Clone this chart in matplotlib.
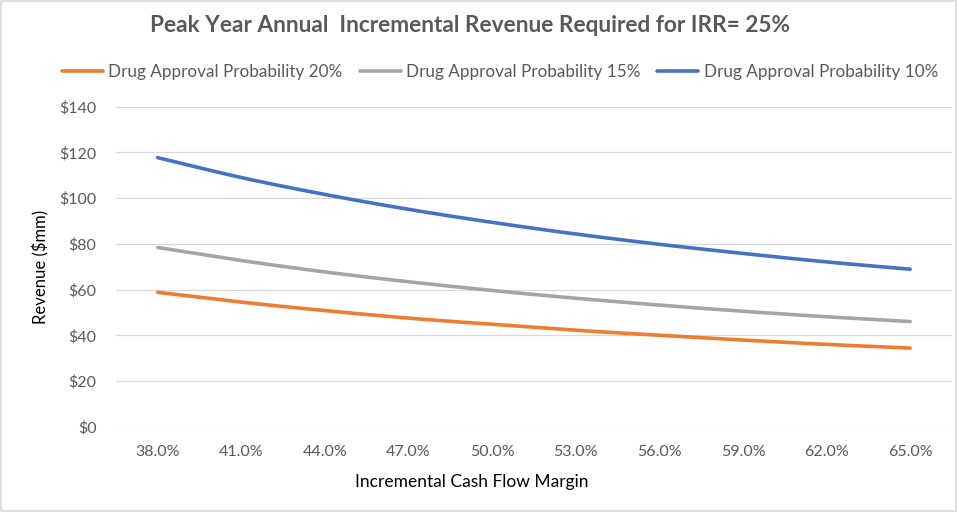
import numpy as np
import matplotlib.pyplot as plt
from matplotlib.patches import Rectangle

plt.rcParams['font.family'] = ['Lato', 'DejaVu Sans']

# categories (incremental cash flow margin)
margins = ["38.0%", "41.0%", "44.0%", "47.0%", "50.0%",
           "53.0%", "56.0%", "59.0%", "62.0%", "65.0%"]

# revenue required ($mm)
prob_20 = [58.8, 54.5, 50.8, 47.5, 44.8, 42.2, 40.0, 37.9, 36.0, 34.4]
prob_15 = [78.4, 72.7, 67.7, 63.4, 59.6, 56.2, 53.2, 50.5, 48.1, 46.0]
prob_10 = [117.7, 109.0, 101.6, 95.1, 89.4, 84.3, 79.8, 75.8, 72.1, 68.9]

series_names = ["Drug Approval Probability 20%",
                "Drug Approval Probability 15%",
                "Drug Approval Probability 10%"]
colors = ["#ED7D31", "#A5A5A5", "#4472C4"]
y_ticks = [0, 20, 40, 60, 80, 100, 120, 140]


def smooth(x, y, n=20):
    # catmull-rom curve through the points, like excel's smoothed line
    x = np.asarray(x, float)
    y = np.asarray(y, float)
    px = np.concatenate([[2 * x[0] - x[1]], x, [2 * x[-1] - x[-2]]])
    py = np.concatenate([[2 * y[0] - y[1]], y, [2 * y[-1] - y[-2]]])
    t = np.linspace(0, 1, n)
    xs, ys = [], []
    for i in range(1, len(px) - 2):
        for p, out in ((px, xs), (py, ys)):
            p0, p1, p2, p3 = p[i - 1], p[i], p[i + 1], p[i + 2]
            out.extend(0.5 * (2 * p1 + (-p0 + p2) * t
                              + (2 * p0 - 5 * p1 + 4 * p2 - p3) * t ** 2
                              + (-p0 + 3 * p1 - 3 * p2 + p3) * t ** 3))
    return xs, ys


fig = plt.figure(figsize=(9.58, 5.12), dpi=100)
ax = fig.add_axes([0.121, 0.1666, 0.8727, 0.625])

x = np.arange(len(margins))
for vals, name, c in zip([prob_20, prob_15, prob_10], series_names, colors):
    sx, sy = smooth(x, vals)
    ax.plot(sx, sy, color=c, lw=2.6, solid_capstyle='round', label=name)

ax.set_xlim(-0.5, len(margins) - 0.5)
ax.set_ylim(0, 140)
ax.set_xticks(x)
ax.set_xticklabels(margins)
ax.set_yticks(y_ticks)
ax.set_yticklabels([r"\$%d" % v for v in y_ticks])
ax.tick_params(length=0, labelsize=11.5, colors="#595959")
ax.tick_params(axis='y', pad=14)
ax.tick_params(axis='x', pad=13)
ax.grid(axis='y', color="#D9D9D9", lw=0.9)
ax.set_axisbelow(True)
for s in ax.spines.values():
    s.set_visible(False)

fig.text(0.492, 0.059, "Incremental Cash Flow Margin", ha='center', va='center',
         fontsize=12.5, color="#000000")
ax.set_ylabel(r"Revenue (\$mm)", fontsize=12, color="#000000", labelpad=7)

fig.text(0.491, 0.951, "Peak Year Annual  Incremental Revenue Required for IRR= 25%",
         ha='center', va='center', fontsize=16.3, fontweight='bold', color="#595959")

fig.legend(loc='center', bbox_to_anchor=(0.522, 0.859), ncol=3, frameon=False,
           fontsize=12.3, handlelength=2.4, handletextpad=0.3, columnspacing=1.0,
           labelcolor="#595959")

fig.patches.append(Rectangle((0.001, 0.001), 0.997, 0.997, transform=fig.transFigure,
                             fill=False, ec="#D9D9D9", lw=1.2))

fig.savefig("out.png", dpi=100)
